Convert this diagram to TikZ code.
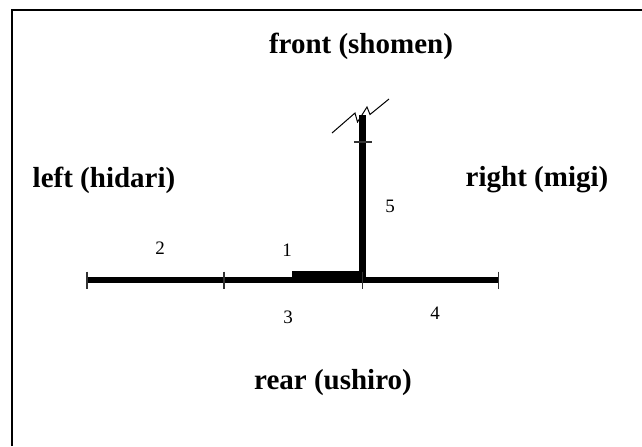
\documentclass[tikz,border=0pt]{standalone}
\usepackage{fontspec}
\setmainfont{Liberation Serif}
\usepackage{tikz}
\usetikzlibrary{positioning}
\tikzset{
  dirlabel/.style={font=\bfseries\fontsize{14.5}{17}\selectfont,inner sep=0pt},
  numlabel/.style={font=\fontsize{9.5}{11}\selectfont,inner sep=0pt},
  beamline/.style={line width=3.3pt,draw=black},
  tickline/.style={line width=0.6pt,draw=black!80},
  breakline/.style={line width=0.5pt,draw=black}
}

\begin{document}
\begin{tikzpicture}[x=0.5pt,y=-0.5pt]
\useasboundingbox (0,0) rectangle (642,446);
% frame
\draw[line width=1pt] (12,446) -- (12,10) -- (642,10);
% directions
\node[dirlabel] (front) at (361,46) {front (shomen)};
\node[dirlabel] (left) at (104,180) {left (hidari)};
\node[dirlabel] (right) at (537,180) {right (migi)};
\node[dirlabel] (rear) at (333,383) {rear (ushiro)};
% beam points
\coordinate (b0) at (87,280);
\coordinate (b1) at (224,280);
\coordinate (b2) at (362.5,280);
\coordinate (b3) at (498.5,280);
\coordinate (ptop) at (362.5,115);
\draw[beamline] (b0) -- (b3);
\fill (292,271) rectangle (b2);
\draw[beamline] (b2) -- (ptop);
\foreach \p in {b0,b1,b2,b3}
  \draw[tickline] ([yshift=4.2pt]\p) -- ([yshift=-4.5pt]\p);
\draw[tickline] ([xshift=-4.3pt,yshift=69pt]b2) -- ([xshift=4.7pt,yshift=69pt]b2);
% break mark
\draw[breakline] (332,133) -- (355,113) -- (357.5,122) -- (367,107) -- (370,114.5) -- (389,99);
% numbers
\node[numlabel] (n1) at (287,250) {1};
\node[numlabel] (n2) at (160,248) {2};
\node[numlabel] (n3) at (288,317) {3};
\node[numlabel] (n4) at (435,313) {4};
\node[numlabel] (n5) at (390,206) {5};
\end{tikzpicture}
\end{document}
